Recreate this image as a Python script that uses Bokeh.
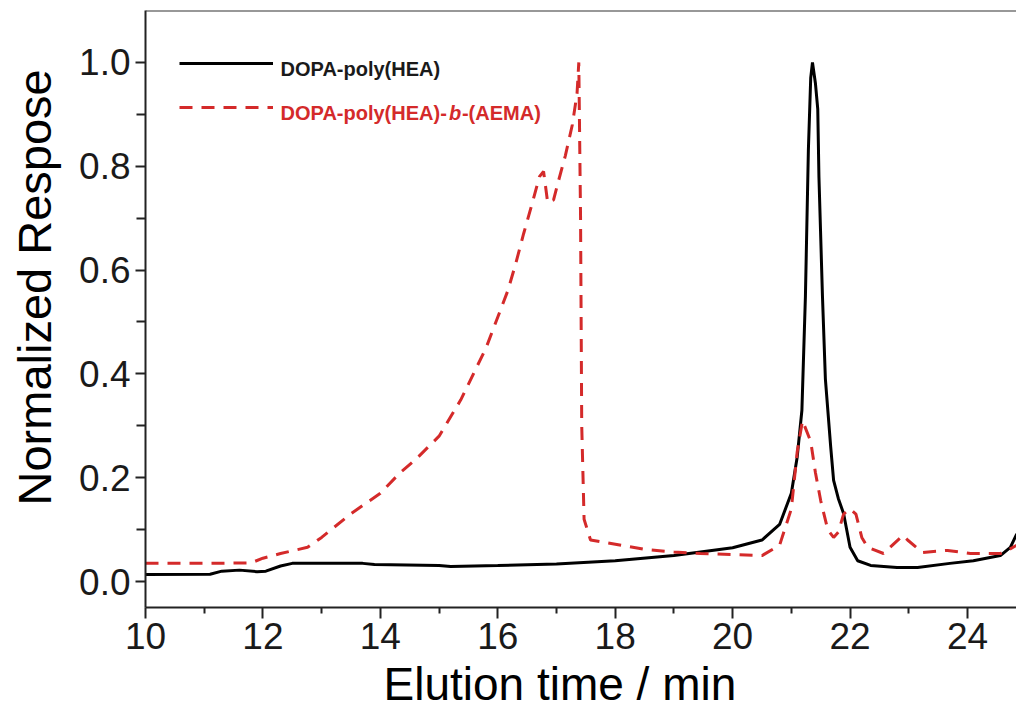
from bokeh.plotting import figure
from bokeh.models import (Range1d, FixedTicker, NumeralTickFormatter, Label, Span,
                          Legend, LegendItem, Title)
from bokeh.embed import file_html
from bokeh.resources import INLINE

# DOPA-poly(HEA)  (solid black)
time_hea = [10.0, 11.1, 11.3, 11.6, 11.9, 12.05, 12.3, 12.5, 13.7, 13.9, 15.0, 15.2,
            16.0, 17.0, 18.0, 19.0, 20.0, 20.5, 20.8, 21.0, 21.1, 21.18, 21.24, 21.29,
            21.33, 21.36, 21.41, 21.45, 21.47, 21.53, 21.58, 21.67, 21.72, 21.8, 21.89,
            22.0, 22.13, 22.35, 22.8, 23.15, 23.7, 24.1, 24.56, 24.73, 24.84]
resp_hea = [0.0135, 0.014, 0.02, 0.022, 0.019, 0.02, 0.03, 0.035, 0.035, 0.033, 0.031,
            0.029, 0.031, 0.034, 0.04, 0.05, 0.065, 0.08, 0.11, 0.17, 0.24, 0.33, 0.55,
            0.83, 0.97, 1.0, 0.96, 0.91, 0.78, 0.55, 0.39, 0.26, 0.195, 0.16, 0.131,
            0.066, 0.04, 0.031, 0.027, 0.027, 0.035, 0.04, 0.05, 0.066, 0.092]

# DOPA-poly(HEA)-b-(AEMA)  (dashed red)
time_aema = [10.0, 11.0, 11.8, 12.0, 12.3, 12.76, 13.0, 13.49, 14.0, 14.34, 14.6, 15.0,
             15.37, 15.8, 16.17, 16.30, 16.44, 16.59, 16.71, 16.78, 16.85, 16.95, 17.03,
             17.15, 17.27, 17.35, 17.38, 17.41, 17.43, 17.47, 17.58, 18.1, 18.5, 19.0,
             19.45, 20.0, 20.5, 20.8, 21.0, 21.1, 21.19, 21.33, 21.41, 21.5, 21.62,
             21.72, 21.8, 21.89, 22.0, 22.1, 22.2, 22.3, 22.57, 22.9, 22.98, 23.23,
             23.66, 24.05, 24.56, 24.68, 24.84]
resp_aema = [0.035, 0.035, 0.036, 0.045, 0.054, 0.066, 0.085, 0.13, 0.17, 0.21, 0.235,
             0.28, 0.35, 0.45, 0.56, 0.61, 0.67, 0.73, 0.78, 0.79, 0.73, 0.735, 0.77,
             0.82, 0.88, 0.94, 1.0, 0.7, 0.3, 0.12, 0.08, 0.07, 0.062, 0.057, 0.054,
             0.052, 0.05, 0.07, 0.14, 0.25, 0.31, 0.27, 0.21, 0.156, 0.10, 0.085, 0.095,
             0.13, 0.14, 0.13, 0.085, 0.066, 0.054, 0.089, 0.08, 0.056, 0.06, 0.054,
             0.054, 0.06, 0.07]

x_major = [10, 12, 14, 16, 18, 20, 22, 24]
x_minor = [11, 13, 15, 17, 19, 21, 23]
y_major = [0.0, 0.2, 0.4, 0.6, 0.8, 1.0]
y_minor = [0.1, 0.3, 0.5, 0.7, 0.9]

FONT = "Liberation Sans"
RED = "#d42a2a"

p = figure(width=1016, height=714, output_backend="svg", toolbar_location=None,
           x_range=Range1d(10, 24.835), y_range=Range1d(-0.05, 1.10),
           min_border_left=145, min_border_right=0, min_border_top=10,
           min_border_bottom=107)
p.outline_line_color = None
p.grid.visible = False
p.background_fill_color = "white"
p.border_fill_color = "white"

r_hea = p.line(time_hea, resp_hea, line_color="black", line_width=3)
r_aema = p.line(time_aema, resp_aema, line_color=RED, line_width=3, line_dash="13 9")

for ax in (p.xaxis[0], p.yaxis[0]):
    ax.axis_line_width = 2
    ax.axis_line_color = "#222222"
    ax.major_tick_line_width = 2
    ax.minor_tick_line_width = 2
    ax.major_tick_line_color = "#222222"
    ax.minor_tick_line_color = "#222222"
    ax.major_tick_in = 0
    ax.minor_tick_in = 0
    ax.major_label_text_font = FONT
    ax.major_label_text_font_size = "37px"
    ax.major_label_text_color = "#1a1a1a"

p.xaxis.ticker = FixedTicker(ticks=x_major, minor_ticks=x_minor)
p.xaxis.major_tick_out = 11
p.xaxis.minor_tick_out = 6
p.xaxis.major_label_standoff = 4

p.yaxis.ticker = FixedTicker(ticks=y_major, minor_ticks=y_minor)
p.yaxis.formatter = NumeralTickFormatter(format="0.0")
p.yaxis.major_tick_out = 10
p.yaxis.minor_tick_out = 9
p.yaxis.major_label_standoff = 5
# invisible spacer so the y title sits a little further out
p.yaxis.axis_label = " "
p.yaxis.axis_label_text_font_size = "1px"
p.yaxis.axis_label_standoff = 8

# top frame line
p.add_layout(Span(location=1.10, dimension="width", line_color="#333333", line_width=2))

# axis titles
p.add_layout(Title(text="Elution time / min", align="left", offset=238,
                   text_font=FONT, text_font_size="46px", text_font_style="normal",
                   text_color="black", standoff=8), "below")
p.add_layout(Title(text="Normalized Respose", align="left", offset=102,
                   text_font=FONT, text_font_size="47px", text_font_style="normal",
                   text_color="black", standoff=6), "left")

# legend keys
leg1 = Legend(items=[LegendItem(label=" ", renderers=[r_hea])], location=(34, 534),
              padding=0, margin=0, glyph_width=94, glyph_height=20, label_width=0,
              label_standoff=0, border_line_color=None, background_fill_alpha=0,
              label_text_font_size="1px")
leg2 = Legend(items=[LegendItem(label=" ", renderers=[r_aema])], location=(34, 490),
              padding=0, margin=0, glyph_width=94, glyph_height=20, label_width=0,
              label_standoff=0, border_line_color=None, background_fill_alpha=0,
              label_text_font_size="1px")
p.add_layout(leg1)
p.add_layout(leg2)

# legend texts
LFS = "20px"
p.add_layout(Label(x=12.30, y=0.988, text="DOPA-poly(HEA)", text_font=FONT,
                   text_font_size=LFS, text_font_style="bold", text_baseline="middle",
                   text_color="#1a1a1a"))
p.add_layout(Label(x=12.30, y=0.902, text="DOPA-poly(HEA)-", text_font=FONT,
                   text_font_size=LFS, text_font_style="bold", text_baseline="middle",
                   text_color=RED))
p.add_layout(Label(x=15.17, y=0.902, text="b", text_font=FONT,
                   text_font_size=LFS, text_font_style="bold italic",
                   text_baseline="middle", text_color=RED))
p.add_layout(Label(x=15.39, y=0.902, text="-(AEMA)", text_font=FONT,
                   text_font_size=LFS, text_font_style="bold", text_baseline="middle",
                   text_color=RED))

open("out.html", "w").write(file_html(p, INLINE))
